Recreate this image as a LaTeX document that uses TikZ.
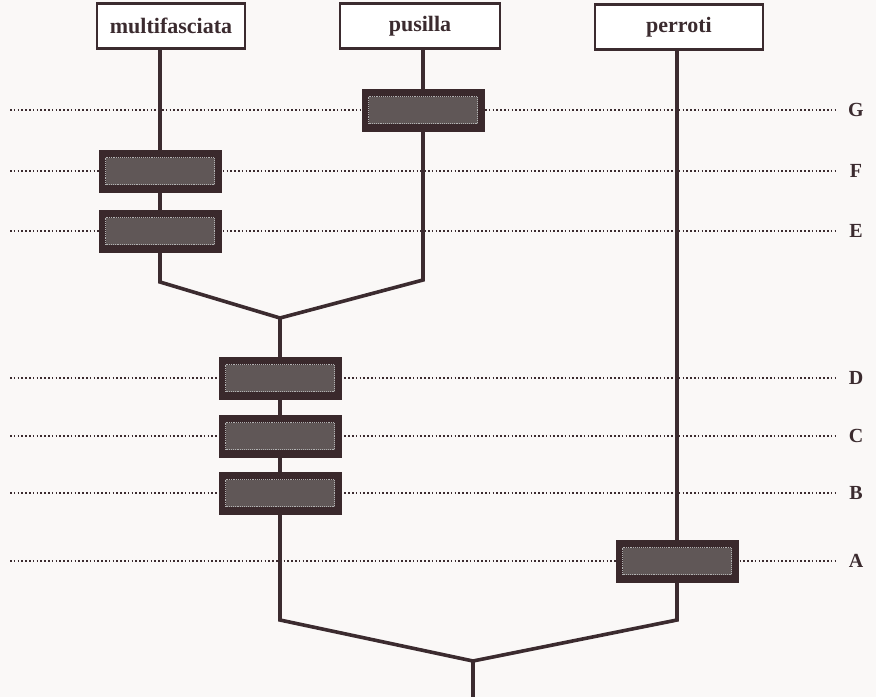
\documentclass[tikz,border=0pt]{standalone}
\usepackage{fontspec}
\setmainfont{Liberation Serif}
\definecolor{ink}{HTML}{3B2B2F}
\definecolor{boxdark}{HTML}{3A292C}
\definecolor{boxgrey}{HTML}{605757}
\definecolor{paper}{HTML}{FAF8F7}
\begin{document}
\begin{tikzpicture}[x=1pt, y=-1pt,
    taxon/.style={rectangle, draw=ink, line width=2.4pt, fill=white, minimum height=45pt, inner sep=0pt, font=\fontsize{22}{24}\selectfont\bfseries, text=ink},
    event/.style={rectangle, fill=boxdark, minimum width=123pt, minimum height=43pt, inner sep=0pt,
        path picture={\fill[boxgrey] ([shift={(7pt,-8pt)}]path picture bounding box.north west) rectangle ([shift={(-7pt,8pt)}]path picture bounding box.south east);
            \draw[gray!60, line width=0.9pt, densely dotted] ([shift={(7pt,-8pt)}]path picture bounding box.north west) rectangle ([shift={(-7pt,8pt)}]path picture bounding box.south east);}},
    level/.style={font=\fontsize{20}{22}\selectfont\bfseries, text=ink},
    dotline/.style={ink, line width=1.6pt, dash pattern=on 1.6pt off 2.2pt, shorten >=10pt},
    branch/.style={ink, line width=3.6pt, line join=miter},
]
    \useasboundingbox[fill=paper] (0,0) rectangle (876,697);

    % Species at the tips
    \node[taxon, minimum width=148pt] (multi) at (171,26) {multifasciata};
    \node[taxon, minimum width=160pt] (pus) at (420,26) {pusilla};
    \node[taxon, minimum width=168pt] (perr) at (679,27) {perroti};

    % Levels A to G
    \foreach \lab/\yy in {G/110, F/171, E/231, D/378, C/436, B/493, A/561} {
        \coordinate (s\lab) at (10,\yy);
        \node[level] (l\lab) at (856,\yy) {\lab};
        \draw[dotline] (s\lab) -- (l\lab.west);
    }

    % Branch points
    \coordinate (kE) at (160,282);
    \coordinate (kG) at (423,280);
    \coordinate (j1) at (280,318);
    \coordinate (kB) at (280,620);
    \coordinate (kA) at (677,620);
    \coordinate (j2) at (473,661);
    \coordinate (root) at (473,697);

    % Branches
    \draw[branch] (multi.south -| kE) -- (kE) -- (j1) -- (kG) -- (pus.south -| kG);
    \draw[branch] (j1) -- (kB) -- (j2) -- (kA) -- (perr.south -| kA);
    \draw[branch] (j2) -- (root);

    % Events on the branches
    \node[event] (evG) at (423,110) {};
    \node[event] (evF) at (160,171) {};
    \node[event] (evE) at (160,231) {};
    \node[event] (evD) at (280,378) {};
    \node[event] (evC) at (280,436) {};
    \node[event] (evB) at (280,493) {};
    \node[event] (evA) at (677,561) {};
\end{tikzpicture}
\end{document}
